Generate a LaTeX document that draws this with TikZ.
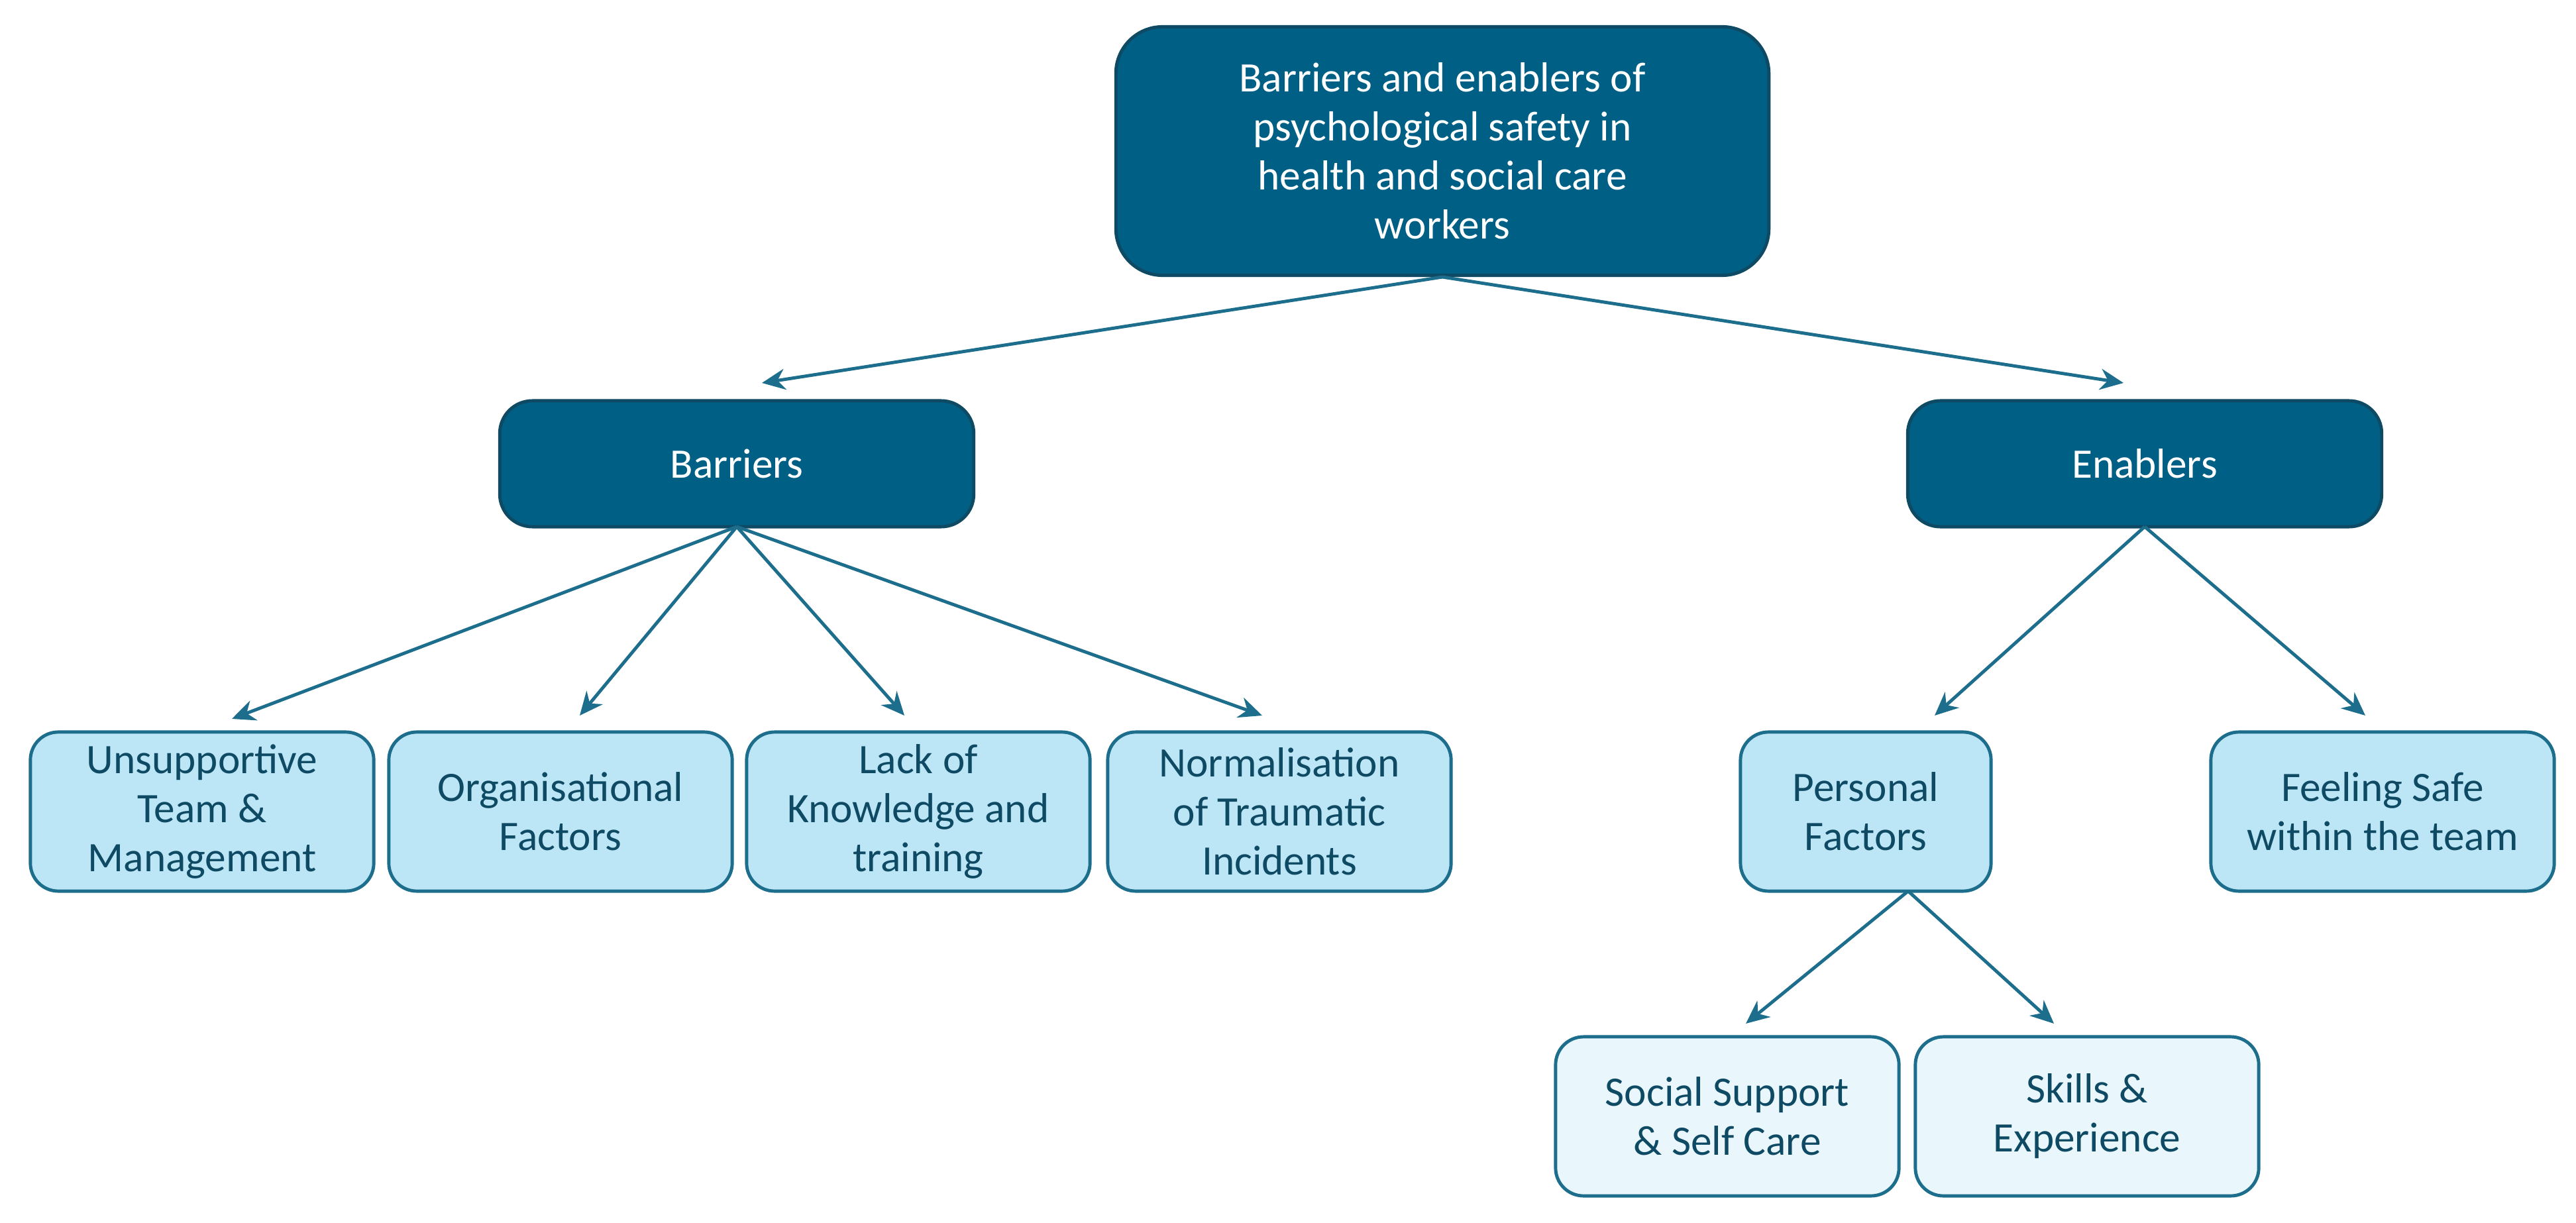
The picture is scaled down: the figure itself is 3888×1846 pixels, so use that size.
\documentclass[tikz,border=0pt]{standalone}
\usepackage{fontspec}
\setmainfont{Carlito}
\usetikzlibrary{arrows.meta}
\definecolor{dk}{HTML}{005F84}
\definecolor{dkb}{HTML}{0E4A63}
\definecolor{lt}{HTML}{BCE5F5}
\definecolor{vl}{HTML}{E9F6FC}
\definecolor{ln}{HTML}{1D6E8C}
\definecolor{tx}{HTML}{0E4A63}
\begin{document}
\begin{tikzpicture}[x=0.01cm,y=-0.01cm,
 box/.style={rounded corners=14pt,draw=dkb,line width=1.4pt,align=center,font=\fontsize{18}{21}\selectfont,inner sep=0pt},
 dark/.style={box,fill=dk,text=white},
 light/.style={box,fill=lt,draw=ln,text=tx,minimum width=5.18cm,minimum height=2.4cm,rounded corners=12pt},
 vlight/.style={light,fill=vl},
 arr/.style={-{Stealth[length=10pt,width=9pt]},draw=ln,line width=1.4pt}]
\useasboundingbox (0,0) rectangle (3888,1846);
\node[dark,minimum width=9.85cm,minimum height=3.75cm,rounded corners=20pt] (top) at (2177,228) {Barriers and enablers of\\psychological safety in\\health and social care\\workers};
\node[dark,minimum width=7.15cm,minimum height=1.9cm] (bar) at (1112,700) {Barriers};
\node[dark,minimum width=7.15cm,minimum height=1.9cm] (ena) at (3237,700) {Enablers};
\node[light] (u) at (305,1225) {Unsupportive\\Team \&\\Management};
\node[light] (o) at (846,1225) {Organisational\\Factors};
\node[light] (l) at (1386,1225) {Lack of\\Knowledge and\\training};
\node[light] (n) at (1931,1225) {Normalisation\\of Traumatic\\Incidents};
\node[light,minimum width=3.78cm] (p) at (2816,1225) {Personal\\Factors};
\node[light] (f) at (3596,1225) {Feeling Safe\\within the team};
\node[vlight] (s) at (2607,1685) {Social Support\\\& Self Care};
\node[vlight] (k) at (3150,1685) {Skills \&\\Experience};
\coordinate (t1) at (1150,578); \coordinate (t2) at (3205,578);
\coordinate (bo) at (1112,795); \coordinate (eo) at (3237,795); \coordinate (po) at (2880,1345);
\coordinate (u1) at (350,1085); \coordinate (o1) at (875,1080); \coordinate (l1) at (1365,1080); \coordinate (n1) at (1905,1080);
\coordinate (p1) at (2920,1080); \coordinate (f1) at (3570,1080);
\coordinate (s1) at (2635,1545); \coordinate (k1) at (3100,1545);
\draw[arr] (top.south) -- (t1);
\draw[arr] (top.south) -- (t2);
\foreach \e in {u1,o1,l1,n1} \draw[arr] (bo) -- (\e);
\foreach \e in {p1,f1} \draw[arr] (eo) -- (\e);
\foreach \e in {s1,k1} \draw[arr] (po) -- (\e);
\end{tikzpicture}
\end{document}
